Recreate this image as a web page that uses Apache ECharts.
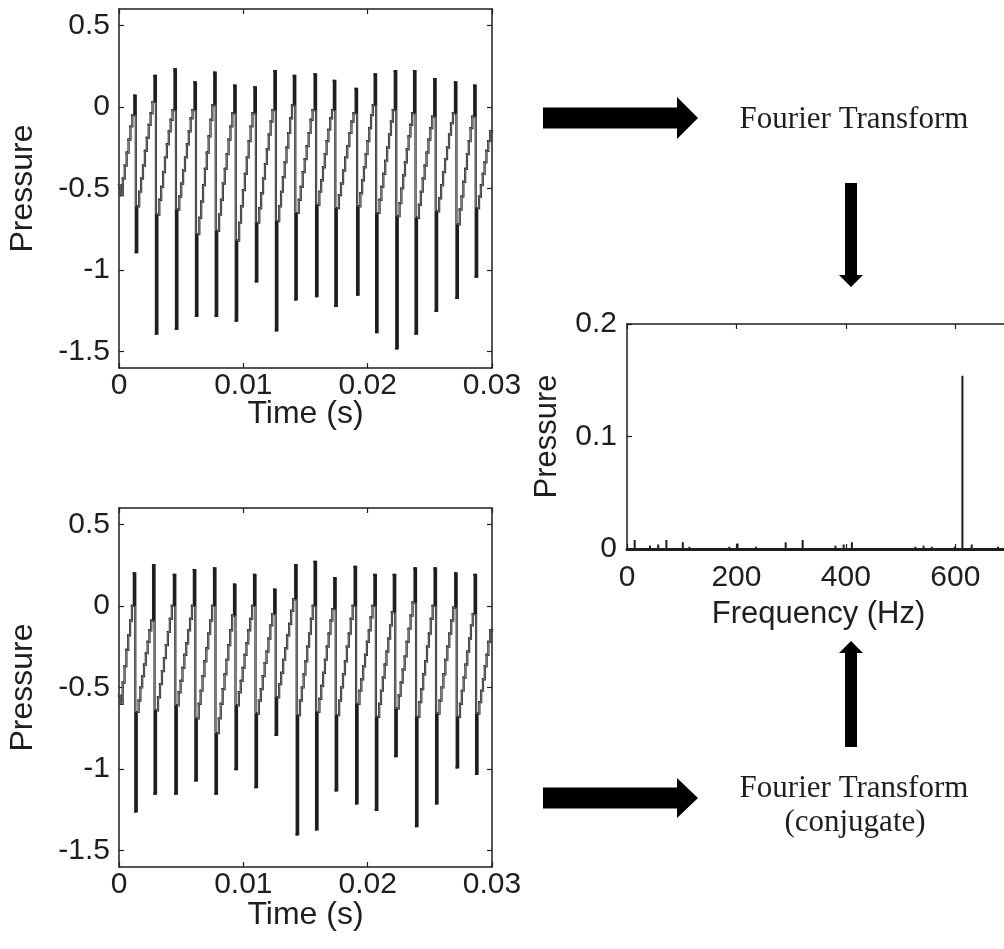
<!DOCTYPE html>
<html><head><meta charset="utf-8">
<script src="https://cdn.jsdelivr.net/npm/echarts@6/dist/echarts.min.js"></script>
<style>html,body{margin:0;padding:0;background:#fff}#c{width:1004px;height:949px}</style>
</head><body><div id="c"></div>
<script>
// ---------- tick labels ----------
const timeTicks = [0, 0.01, 0.02, 0.03];
const pressureTicks = [-1.5, -1, -0.5, 0, 0.5];
const specPressureTicks = [0, 0.1, 0.2];
const freqTicks = [0, 200, 400, 600];

// ---------- top signal ----------
const topLeadIn = [-0.48, -0.54, -0.44, -0.36, -0.28, -0.20, -0.12, -0.05];
const topDropTimes = [0.00123, 0.00285, 0.00446, 0.00607, 0.00766, 0.00927, 0.01089, 0.01250, 0.01406,
                      0.01573, 0.01728, 0.01903, 0.02056, 0.02218, 0.02373, 0.02535, 0.02702, 0.02857];
const topPeaks = [0.07, 0.19, 0.23, 0.15, 0.21, 0.13, 0.12, 0.22, 0.19, 0.20, 0.16, 0.11, 0.20, 0.22, 0.22, 0.17, 0.15, 0.13];
const topMins  = [-0.89, -1.39, -1.36, -1.28, -1.28, -1.31, -1.07, -1.37, -1.18, -1.16, -1.22, -1.15, -1.38, -1.48, -1.39, -1.25, -1.17, -1.04];
const topStairs = [
  [-0.61, -0.52, -0.44, -0.36, -0.27, -0.19, -0.11, -0.04, 0.03],
  [-0.66, -0.57, -0.49, -0.40, -0.31, -0.23, -0.15, -0.08, -0.02],
  [-0.63, -0.55, -0.47, -0.39, -0.31, -0.23, -0.15, -0.07, -0.02],
  [-0.78, -0.68, -0.58, -0.48, -0.38, -0.28, -0.18, -0.08, 0.01],
  [-0.76, -0.66, -0.57, -0.47, -0.38, -0.29, -0.20, -0.12, -0.04],
  [-0.82, -0.71, -0.61, -0.51, -0.41, -0.31, -0.21, -0.12, -0.04],
  [-0.71, -0.62, -0.53, -0.44, -0.35, -0.26, -0.17, -0.09, -0.02],
  [-0.70, -0.61, -0.52, -0.43, -0.34, -0.25, -0.16, -0.07, 0.01],
  [-0.65, -0.57, -0.49, -0.40, -0.32, -0.24, -0.16, -0.08, -0.02],
  [-0.60, -0.52, -0.45, -0.37, -0.29, -0.21, -0.14, -0.07, -0.02],
  [-0.62, -0.54, -0.47, -0.39, -0.31, -0.24, -0.16, -0.09, -0.04],
  [-0.61, -0.53, -0.45, -0.37, -0.29, -0.21, -0.13, -0.05, 0.01],
  [-0.65, -0.57, -0.49, -0.41, -0.33, -0.25, -0.17, -0.09, -0.02],
  [-0.67, -0.59, -0.50, -0.42, -0.34, -0.26, -0.18, -0.11, -0.04],
  [-0.68, -0.60, -0.52, -0.44, -0.36, -0.28, -0.20, -0.13, -0.06],
  [-0.64, -0.56, -0.48, -0.40, -0.32, -0.25, -0.17, -0.10, -0.04],
  [-0.72, -0.63, -0.55, -0.46, -0.38, -0.29, -0.21, -0.13, -0.06],
  [-0.62, -0.55, -0.48, -0.41, -0.34, -0.27, -0.21, -0.15]
];

// ---------- bottom signal ----------
const botLeadIn = [-0.55, -0.60, -0.47, -0.37, -0.27, -0.18, -0.09, 0.0];
const botDropTimes = [0.00119, 0.00274, 0.00441, 0.00602, 0.00764, 0.00925, 0.01086, 0.01248, 0.01417,
                      0.01573, 0.01731, 0.01895, 0.02054, 0.02210, 0.02377, 0.02538, 0.02704, 0.02860];
const botPeaks = [0.20, 0.25, 0.19, 0.22, 0.23, 0.13, 0.19, 0.10, 0.25, 0.27, 0.17, 0.24, 0.19, 0.19, 0.23, 0.23, 0.20, 0.19];
const botMins  = [-1.26, -1.15, -1.15, -1.07, -1.15, -1.00, -1.11, -0.79, -1.40, -1.37, -1.13, -1.21, -1.25, -0.92, -1.35, -1.21, -0.99, -1.03];
const botStairs = [
  [-0.65, -0.58, -0.50, -0.43, -0.36, -0.29, -0.22, -0.15, -0.09],
  [-0.64, -0.56, -0.48, -0.40, -0.32, -0.24, -0.16, -0.08, 0.0],
  [-0.61, -0.53, -0.46, -0.38, -0.30, -0.23, -0.15, -0.08, 0.0],
  [-0.69, -0.60, -0.52, -0.43, -0.34, -0.26, -0.17, -0.09, 0.0],
  [-0.78, -0.69, -0.60, -0.51, -0.42, -0.33, -0.24, -0.15, -0.06],
  [-0.61, -0.53, -0.46, -0.38, -0.30, -0.23, -0.15, -0.08, 0.0],
  [-0.66, -0.58, -0.51, -0.43, -0.35, -0.28, -0.20, -0.12, -0.05],
  [-0.56, -0.48, -0.41, -0.33, -0.26, -0.18, -0.11, -0.03, 0.04],
  [-0.67, -0.58, -0.50, -0.42, -0.34, -0.25, -0.17, -0.08, 0.0],
  [-0.65, -0.57, -0.49, -0.41, -0.33, -0.25, -0.17, -0.09, -0.02],
  [-0.67, -0.58, -0.50, -0.42, -0.34, -0.25, -0.17, -0.08, 0.0],
  [-0.60, -0.52, -0.45, -0.37, -0.30, -0.22, -0.15, -0.07, 0.0],
  [-0.68, -0.60, -0.52, -0.44, -0.36, -0.28, -0.20, -0.12, -0.04],
  [-0.63, -0.55, -0.47, -0.39, -0.31, -0.22, -0.14, -0.06, 0.02],
  [-0.68, -0.59, -0.51, -0.42, -0.34, -0.25, -0.17, -0.08, 0.0],
  [-0.66, -0.58, -0.50, -0.42, -0.33, -0.25, -0.17, -0.09, -0.01],
  [-0.68, -0.60, -0.52, -0.44, -0.36, -0.28, -0.20, -0.12, -0.05],
  [-0.66, -0.59, -0.52, -0.45, -0.37, -0.30, -0.22, -0.15]
];

// ---------- spectrum ----------
const specFreqs = [14, 42, 57, 72, 102, 114, 187, 202, 236, 290, 321, 381, 396, 411, 527, 542, 557, 599, 613, 630, 678];
const specAmps  = [0.008, 0.003, 0.004, 0.008, 0.006, 0.002, 0.002, 0.005, 0.002, 0.006, 0.008, 0.003, 0.004, 0.006, 0.002, 0.003, 0.002, 0.002, 0.154, 0.004, 0.002];

// ---------- sample-and-hold segments: [t, v, tNext, vNext] ----------
function buildSegments(leadIn, drops, peaks, mins, stairs, tEnd, gap) {
  const samples = [];
  const light = [];
  const addStairs = (seq, endT) => {
    for (let i = 0; i < seq.length; i++) {
      const n = i + 1 < seq.length ? seq[i + 1] : [endT, seq[i][1]];
      light.push([seq[i][0], seq[i][1], n[0], n[1]]);
    }
  };
  const T1 = drops[0];
  const lead = leadIn.map((v, j) => [j * T1 / leadIn.length, v]);
  lead.forEach(p => samples.push(p));
  addStairs(lead, T1);
  let prevTop = leadIn[leadIn.length - 1];
  drops.forEach((t, k) => {
    samples.push([t, peaks[k]]);
    samples.push([t + gap, mins[k]]);
    const s0 = t + 2 * gap;
    const next = k + 1 < drops.length ? drops[k + 1] : tEnd;
    const st = stairs[k].map((v, j) => [s0 + j * (next - s0) / stairs[k].length, v]);
    light.push([t + gap, stairs[k][0], t + gap, prevTop]);
    st.forEach(p => samples.push(p));
    addStairs(st, next);
    prevTop = stairs[k][stairs[k].length - 1];
  });
  samples.push([tEnd, prevTop]);
  const all = [];
  for (let i = 0; i + 1 < samples.length; i++) {
    all.push([samples[i][0], samples[i][1], samples[i + 1][0], samples[i + 1][1]]);
  }
  return { all: all, light: light };
}
const GAP = 0.00012;
const topSegs = buildSegments(topLeadIn, topDropTimes, topPeaks, topMins, topStairs, 0.03, GAP);
const botSegs = buildSegments(botLeadIn, botDropTimes, botPeaks, botMins, botStairs, 0.03, GAP);
const specData = specFreqs.map((f, i) => [f, specAmps[i]]);

const INK = '#1e1e1e';
const FONT = 'Liberation Sans, Arial, sans-serif';
const SERIF = 'Liberation Serif, Times New Roman, serif';
const labelStyle = { color: INK, fontSize: 30, fontFamily: FONT };

function xAxes(grid, min, max, ticks, name, gap, nameSize, extra) {
  const base = { gridIndex: grid, type: 'value', min: min, max: max, splitLine: { show: false } };
  return [
    Object.assign({}, base, {
      position: 'bottom',
      axisLine: { show: true, onZero: false, lineStyle: { color: INK, width: (extra && extra.bottomWidth) || 1.5 } },
      axisTick: { show: true, inside: true, length: 5, customValues: ticks, lineStyle: { color: INK, width: 1.2 } },
      axisLabel: Object.assign({ show: true, customValues: ticks, margin: (extra && extra.labelMargin) || 3 }, labelStyle),
      name: name, nameLocation: 'middle', nameGap: gap, nameMoveOverlap: false,
      nameTextStyle: { color: INK, fontSize: nameSize, fontFamily: FONT }
    }),
    Object.assign({}, base, {
      position: 'top',
      axisLine: { show: true, onZero: false, lineStyle: { color: INK, width: 1.5 } },
      axisTick: { show: true, inside: true, length: 5, customValues: ticks, lineStyle: { color: INK, width: 1.2 } },
      axisLabel: { show: false }
    })
  ];
}
function yAxes(grid, min, max, ticks, name, gap, margin, nameSize) {
  const base = { gridIndex: grid, type: 'value', min: min, max: max, splitLine: { show: false } };
  return [
    Object.assign({}, base, {
      position: 'left',
      axisLine: { show: true, onZero: false, lineStyle: { color: INK, width: 1.5 } },
      axisTick: { show: true, inside: true, length: 5, customValues: ticks, lineStyle: { color: INK, width: 1.2 } },
      axisLabel: Object.assign({ show: true, customValues: ticks, margin: margin }, labelStyle),
      name: name, nameLocation: 'middle', nameGap: gap, nameMoveOverlap: false,
      nameTextStyle: { color: INK, fontSize: nameSize, fontFamily: FONT }
    }),
    Object.assign({}, base, {
      position: 'right',
      axisLine: { show: true, onZero: false, lineStyle: { color: INK, width: 1.5 } },
      axisTick: { show: true, inside: true, length: 5, customValues: ticks, lineStyle: { color: INK, width: 1.2 } },
      axisLabel: { show: false }
    })
  ];
}

function arrowH(x0, x1, xt, yc, hs, hh) {
  return [[x0, yc - hs], [x1, yc - hs], [x1, yc - hh], [xt, yc], [x1, yc + hh], [x1, yc + hs], [x0, yc + hs]];
}
function arrowV(xc, y0, y1, yt, hs, hh) {
  return [[xc - hs, y0], [xc + hs, y0], [xc + hs, y1], [xc + hh, y1], [xc, yt], [xc - hh, y1], [xc - hs, y1]];
}

function holdRenderer(color, width, cap) {
  return function (params, api) {
    const p0 = api.coord([api.value(0), api.value(1)]);
    const p1 = api.coord([api.value(2), api.value(1)]);
    const p2 = api.coord([api.value(2), api.value(3)]);
    return {
      type: 'polyline',
      shape: { points: [p0, p1, p2] },
      style: { stroke: color, lineWidth: width, fill: null, lineJoin: 'miter', lineCap: cap },
      silent: true
    };
  };
}
function signalSeries(xi, yi, segs) {
  return [
    { type: 'custom', xAxisIndex: xi, yAxisIndex: yi, data: segs.all, encode: { x: [0, 2], y: [1, 3] },
      renderItem: holdRenderer(INK, 2.2, 'square'), silent: true, z: 2 },
    { type: 'custom', xAxisIndex: xi, yAxisIndex: yi, data: segs.light, encode: { x: [0, 2], y: [1, 3] },
      renderItem: holdRenderer('#9a9a9a', 0.8, 'butt'), silent: true, z: 3 }
  ];
}

const chart = echarts.init(document.getElementById('c'), null, { renderer: 'canvas' });
chart.setOption({
  animation: false,
  backgroundColor: '#fff',
  grid: [
    { left: 119, top: 9, width: 373, height: 359, outerBoundsMode: 'none', containLabel: false },
    { left: 119, top: 508, width: 373, height: 359, outerBoundsMode: 'none', containLabel: false },
    { left: 627, top: 324, width: 383, height: 225, outerBoundsMode: 'none', containLabel: false }
  ],
  xAxis: [].concat(
    xAxes(0, 0, 0.03, timeTicks, 'Time (s)', 30, 32),
    xAxes(1, 0, 0.03, timeTicks, 'Time (s)', 32, 32),
    xAxes(2, 0, 700, freqTicks, 'Frequency (Hz)', 50, 31, { bottomWidth: 3, labelMargin: 14 })
  ),
  yAxis: [].concat(
    yAxes(0, -1.6, 0.6, pressureTicks, 'Pressure', 80, 9, 32),
    yAxes(1, -1.6, 0.6, pressureTicks, 'Pressure', 80, 9, 32),
    yAxes(2, 0, 0.2, specPressureTicks, 'Pressure', 64, 10, 31)
  ),
  series: [].concat(
    signalSeries(0, 0, topSegs),
    signalSeries(2, 2, botSegs),
    [{ type: 'bar', xAxisIndex: 4, yAxisIndex: 4, data: specData, barWidth: 2,
       itemStyle: { color: INK }, silent: true }]
  ),
  graphic: [
    { type: 'polygon', shape: { points: arrowH(543, 677, 698, 118, 10.5, 21) }, style: { fill: '#000' } },
    { type: 'polygon', shape: { points: arrowV(851, 183, 275, 287, 6, 12) }, style: { fill: '#000' } },
    { type: 'polygon', shape: { points: arrowV(851, 747, 653, 641, 6, 12) }, style: { fill: '#000' } },
    { type: 'polygon', shape: { points: arrowH(543, 677, 698, 798, 10.5, 20) }, style: { fill: '#000' } },
    { type: 'text', x: 854, y: 120, style: { text: 'Fourier Transform', fill: INK, font: '31px ' + SERIF, align: 'center', verticalAlign: 'middle' } },
    { type: 'text', x: 854, y: 789, style: { text: 'Fourier Transform', fill: INK, font: '31px ' + SERIF, align: 'center', verticalAlign: 'middle' } },
    { type: 'text', x: 855, y: 823, style: { text: '(conjugate)', fill: INK, font: '31px ' + SERIF, align: 'center', verticalAlign: 'middle' } }
  ]
});
</script>
</body></html>
